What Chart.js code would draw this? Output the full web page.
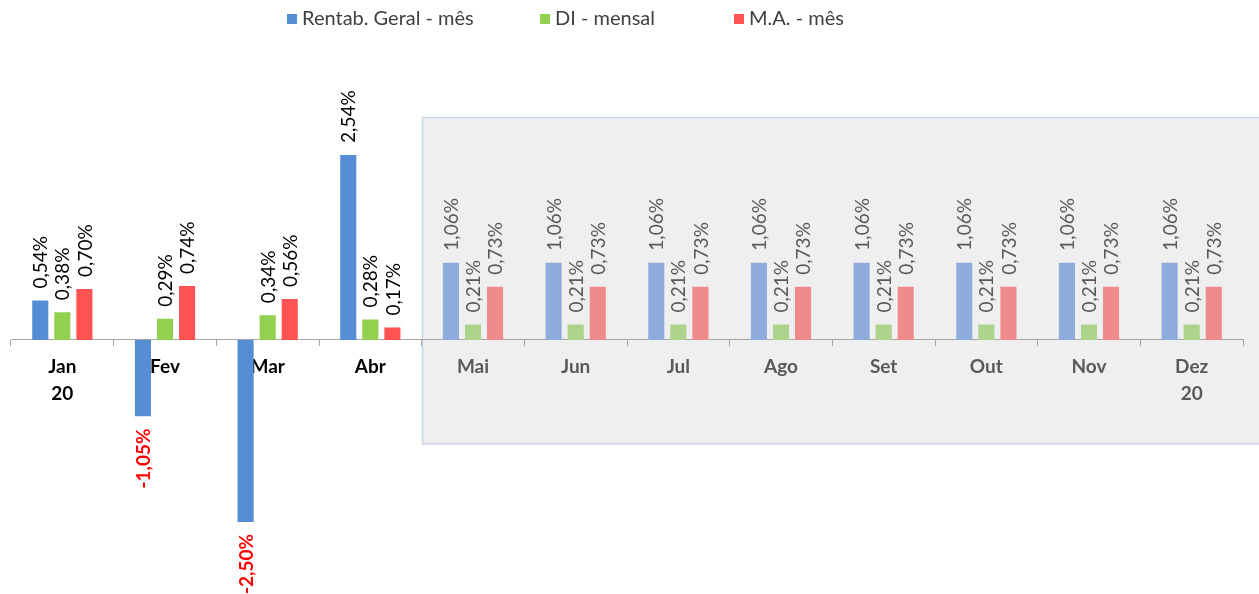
<!DOCTYPE html>
<html>
<head>
<meta charset="utf-8">
<script src="https://cdn.jsdelivr.net/npm/chart.js@4/dist/chart.umd.min.js"></script>
<style>
  html, body { margin: 0; padding: 0; background: #fff; }
  #wrap { width: 1259px; height: 594px; position: relative; }
</style>
</head>
<body>
<div id="wrap"><canvas id="rentChart"></canvas></div>
<script>
// months of 2020, first 4 are realized, the rest projected
const months = [['Jan', '20'], 'Fev', 'Mar', 'Abr', 'Mai', 'Jun', 'Jul', 'Ago', 'Set', 'Out', 'Nov', ['Dez', '20']];
const rentabGeral = [0.54, -1.05, -2.50, 2.54, 1.06, 1.06, 1.06, 1.06, 1.06, 1.06, 1.06, 1.06];
const diMensal = [0.38, 0.29, 0.34, 0.28, 0.21, 0.21, 0.21, 0.21, 0.21, 0.21, 0.21, 0.21];
const maMes = [0.70, 0.74, 0.56, 0.17, 0.73, 0.73, 0.73, 0.73, 0.73, 0.73, 0.73, 0.73];
const realizedCount = 4;

const FONT = 'Lato';

function colorsFor(real, proj) {
  return months.map((m, i) => i < realizedCount ? real : proj);
}

function fmt(v) {
  return v.toFixed(2).replace('.', ',') + '%';
}

// grey box behind the projected months
const projBox = {
  id: 'projBox',
  beforeDraw(chart) {
    const ctx = chart.ctx;
    const x = chart.scales.x;
    const half = (x.getPixelForValue(1) - x.getPixelForValue(0)) / 2;
    const left = Math.round(x.getPixelForValue(realizedCount) - half) + 0.5;
    ctx.save();
    ctx.fillStyle = '#efefef';
    ctx.strokeStyle = '#c9d5e4';
    ctx.lineWidth = 1.5;
    ctx.fillRect(left, 117.5, chart.width - left + 5, 326.5);
    ctx.strokeRect(left, 117.5, chart.width - left + 5, 326.5);
    ctx.restore();
  }
};

// rotated value labels at bar ends
const barLabels = {
  id: 'barLabels',
  afterDatasetsDraw(chart) {
    const ctx = chart.ctx;
    ctx.save();
    chart.data.datasets.forEach((ds, di) => {
      const meta = chart.getDatasetMeta(di);
      meta.data.forEach((bar, i) => {
        const v = ds.data[i];
        const neg = v < 0;
        ctx.save();
        ctx.translate(bar.x, neg ? bar.y + 12 : bar.y - 12);
        ctx.rotate(-Math.PI / 2);
        ctx.textBaseline = 'middle';
        ctx.textAlign = neg ? 'right' : 'left';
        if (neg) {
          ctx.font = 'bold 19px ' + FONT;
          ctx.fillStyle = '#ff0000';
        } else {
          ctx.font = '19px ' + FONT;
          ctx.fillStyle = i < realizedCount ? '#000000' : '#595959';
        }
        ctx.fillText(fmt(v), 0, 1);
        ctx.restore();
      });
    });
    ctx.restore();
  }
};

// legend with Excel-like spacing
const topLegend = {
  id: 'topLegend',
  afterDraw(chart) {
    const ctx = chart.ctx;
    const xs = [287, 540, 734];
    ctx.save();
    ctx.font = '20px ' + FONT;
    ctx.textBaseline = 'middle';
    chart.data.datasets.forEach((ds, i) => {
      ctx.fillStyle = ds.legendColor;
      ctx.fillRect(xs[i], 14, 10, 10);
      ctx.fillStyle = '#404040';
      ctx.fillText(ds.label, xs[i] + 15, 19);
    });
    ctx.restore();
  }
};

const ctx = document.getElementById('rentChart').getContext('2d');
new Chart(ctx, {
  type: 'bar',
  data: {
    labels: months,
    datasets: [{
      label: 'Rentab. Geral - mês',
      data: rentabGeral,
      backgroundColor: colorsFor('#558ed5', '#8eacdb'),
      legendColor: '#558ed5'
    }, {
      label: 'DI - mensal',
      data: diMensal,
      backgroundColor: colorsFor('#92d050', '#acd48c'),
      legendColor: '#92d050'
    }, {
      label: 'M.A. - mês',
      data: maMes,
      backgroundColor: colorsFor('#ff5353', '#f08b8b'),
      legendColor: '#ff5353'
    }]
  },
  options: {
    responsive: true,
    maintainAspectRatio: false,
    animation: false,
    barPercentage: 0.73,
    categoryPercentage: 0.645,
    layout: { padding: { top: 85, bottom: 6.5, left: 11, right: 16 } },
    plugins: {
      legend: { display: false },
      tooltip: { enabled: false }
    },
    scales: {
      x: {
        position: { y: 0 },
        afterFit: (s) => { s.height = 0; },
        grid: { drawOnChartArea: false, tickLength: 6, color: '#a6a6a6' },
        border: { color: '#a6a6a6' },
        ticks: {
          padding: 8,
          maxRotation: 0,
          autoSkip: false,
          font: { family: FONT, size: 19, weight: 'bold', lineHeight: 1.4 },
          color: (c) => c.index < realizedCount ? '#000000' : '#595959'
        }
      },
      y: {
        display: false,
        min: -3.4,
        max: 3.5
      }
    }
  },
  plugins: [projBox, barLabels, topLegend]
});
</script>
</body>
</html>
